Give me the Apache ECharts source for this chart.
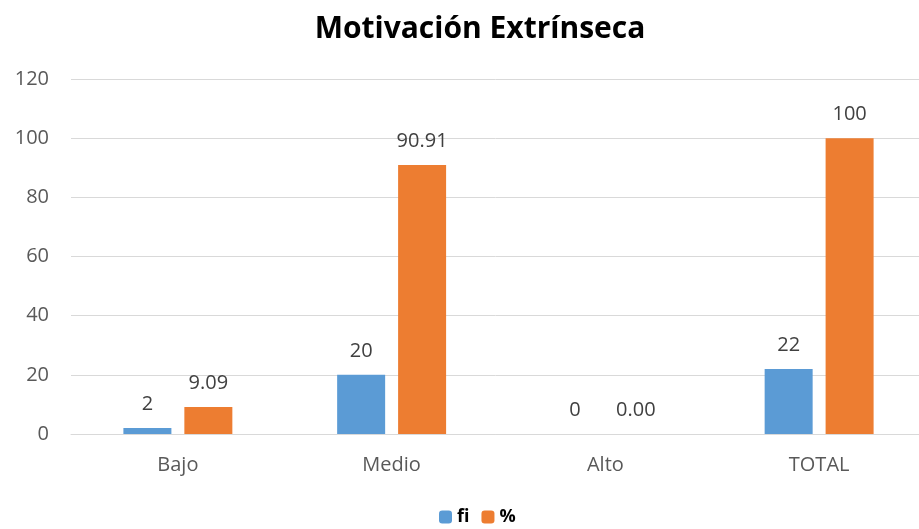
<!DOCTYPE html>
<html>
<head>
<meta charset="utf-8">
<script src="https://cdn.jsdelivr.net/npm/echarts@6/dist/echarts.min.js"></script>
<style>
  html, body { margin: 0; padding: 0; background: #fff; }
  #chart { width: 919px; height: 529px; }
</style>
</head>
<body>
<div id="chart"></div>
<script>
// datos del gráfico
var categories = ['Bajo', 'Medio', 'Alto', 'TOTAL'];
var fiValues = [2, 20, 0, 22];
var pctValues = [9.09, 90.91, 0, 100];
var pctLabels = ['9.09', '90.91', '0.00', '100'];

var chart = echarts.init(document.getElementById('chart'));
var FONT = 'Open Sans';

var option = {
  backgroundColor: '#fff',
  animation: false,
  title: {
    text: 'Motivación Extrínseca',
    left: 475,
    textAlign: 'center',
    top: 9,
    textStyle: {
      fontFamily: FONT,
      fontSize: 30,
      fontWeight: 'bold',
      color: '#000'
    }
  },
  legend: {
    data: ['fi', '%'],
    top: 508,
    left: 439,
    padding: 0,
    itemWidth: 13,
    itemHeight: 13,
    itemGap: 12,
    textStyle: {
      fontFamily: FONT,
      fontSize: 18,
      fontWeight: 'bold',
      color: '#000'
    }
  },
  grid: {
    left: 71,
    right: -7,
    top: 79,
    bottom: 95,
    outerBoundsMode: 'none'
  },
  xAxis: {
    type: 'category',
    data: categories,
    axisTick: { show: false },
    axisLine: { lineStyle: { color: '#d9d9d9', width: 1 } },
    axisLabel: {
      fontFamily: FONT,
      fontSize: 20,
      color: '#595959',
      margin: 21
    }
  },
  yAxis: {
    type: 'value',
    min: 0,
    max: 120,
    interval: 20,
    axisLine: { show: false },
    axisTick: { show: false },
    splitLine: { lineStyle: { color: '#d9d9d9', width: 1 } },
    axisLabel: {
      fontFamily: FONT,
      fontSize: 20,
      color: '#595959',
      margin: 22
    }
  },
  series: [
    {
      name: 'fi',
      type: 'bar',
      data: fiValues,
      barWidth: 48,
      barGap: '27%',
      itemStyle: { color: '#5b9bd5' },
      label: {
        show: true,
        position: 'top',
        distance: 14,
        fontFamily: FONT,
        fontSize: 20,
        color: '#404040'
      }
    },
    {
      name: '%',
      type: 'bar',
      data: pctValues,
      barWidth: 48,
      itemStyle: { color: '#ed7d31' },
      label: {
        show: true,
        position: 'top',
        distance: 14,
        fontFamily: FONT,
        fontSize: 20,
        color: '#404040',
        formatter: function (p) {
          return pctLabels[p.dataIndex];
        }
      }
    }
  ]
};

chart.setOption(option);
</script>
</body>
</html>
